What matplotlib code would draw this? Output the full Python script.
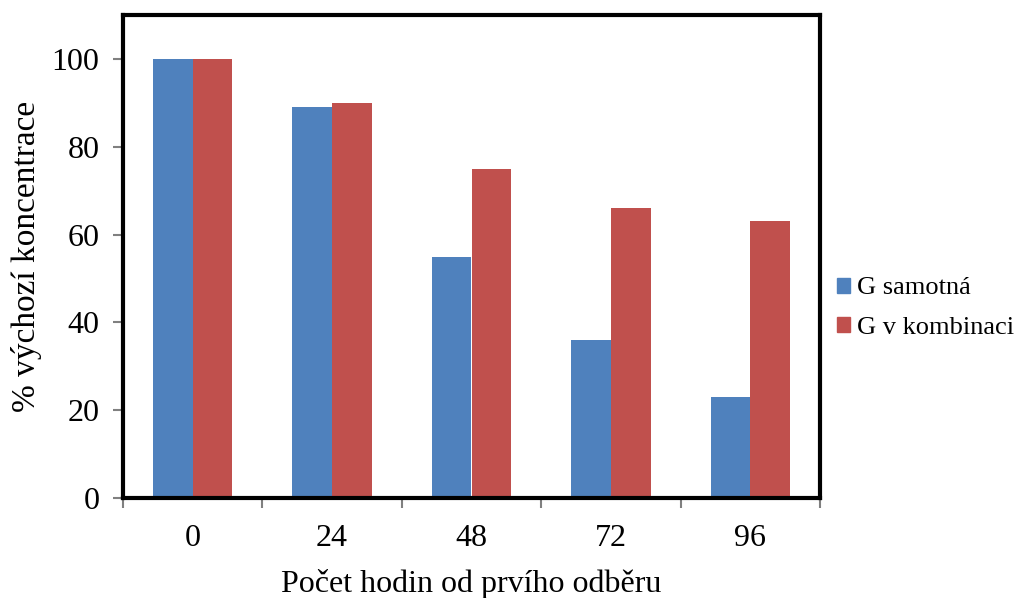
import numpy as np
import matplotlib.pyplot as plt
from matplotlib.patches import Patch

# Hodnoty grafu
hodiny = ['0', '24', '48', '72', '96']
g_samotna = [100, 89, 55, 36, 23]
g_kombinace = [100, 90, 75, 66, 63]

plt.rcParams['font.family'] = ['Liberation Serif', 'DejaVu Serif']

fig = plt.figure(figsize=(10.16, 5.98), dpi=100)
ax = fig.add_axes([123 / 1016, 1 - 498 / 598, 697 / 1016, 483 / 598])

x = np.arange(len(hodiny))
w = 0.285
ax.bar(x - w / 2, g_samotna, width=w, color='#4F81BD', label='G samotná')
ax.bar(x + w / 2, g_kombinace, width=w, color='#C0504D', label='G v kombinaci')

ax.set_xlim(-0.5, len(hodiny) - 0.5)
ax.set_ylim(0, 110)
ax.set_yticks(range(0, 101, 20))
ax.set_xticks(x)
ax.set_xticklabels(hodiny)
# carky mezi kategoriemi
ax.set_xticks(np.arange(-0.5, len(hodiny)), minor=True)
ax.tick_params(axis='x', which='major', length=0, pad=19, labelsize=23)
ax.tick_params(axis='x', which='minor', length=7, width=1.5, color='#808080')
ax.tick_params(axis='y', length=7, width=1.5, color='#808080', pad=10, labelsize=23)

for s in ax.spines.values():
    s.set_linewidth(3)
    s.set_color('black')

ax.set_xlabel('Počet hodin od prvího odběru', fontsize=23, labelpad=11)
ax.set_ylabel('% výchozí koncentrace', fontsize=24, labelpad=7)

handles = [Patch(color='#4F81BD'), Patch(color='#C0504D')]
fig.legend(handles, ['G samotná', 'G v kombinaci'], loc='center left',
           bbox_to_anchor=(837 / 1016, 1 - 308 / 598), frameon=False,
           borderpad=0, borderaxespad=0,
           fontsize=19, handlelength=0.5, handleheight=0.5, handletextpad=0.27,
           labelspacing=0.65)

fig.savefig('out.png', dpi=100)
